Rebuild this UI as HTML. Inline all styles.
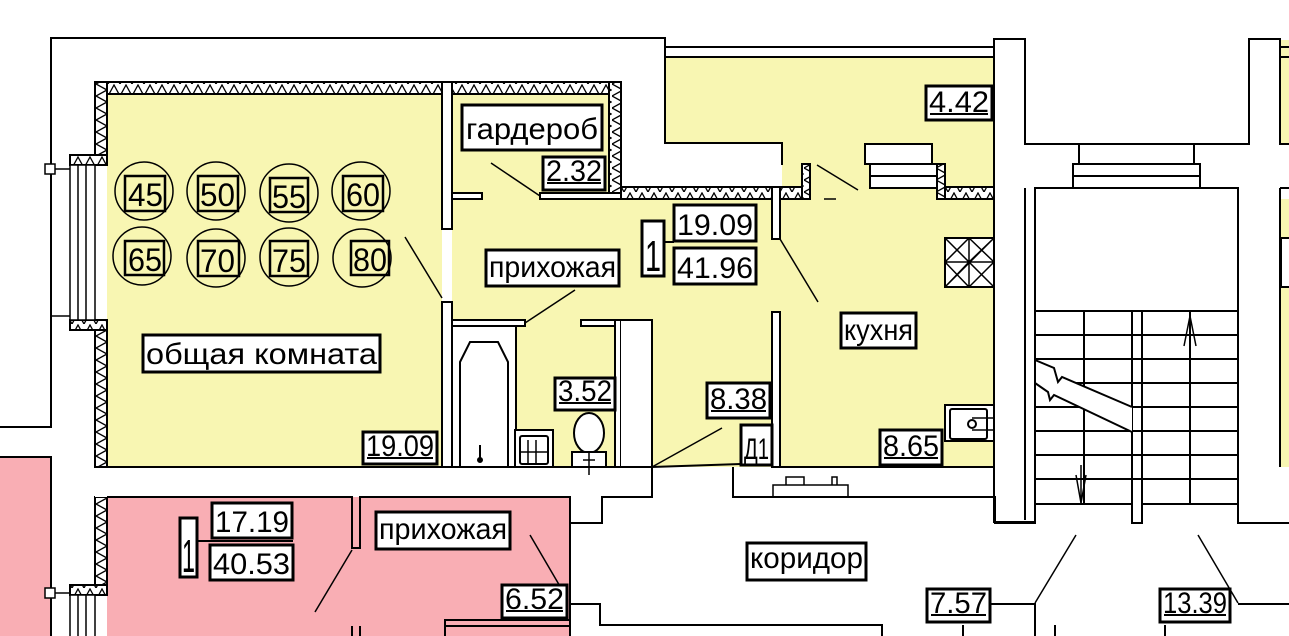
<!DOCTYPE html>
<html><head><meta charset="utf-8"><style>
html,body{margin:0;padding:0;background:#fff;}
svg{display:block;}
text{font-family:"Liberation Sans",sans-serif;fill:#000;}
</style></head><body>
<svg width="1289" height="636" viewBox="0 0 1289 636" xmlns="http://www.w3.org/2000/svg">
<defs>
<pattern id="hz" width="12" height="12" patternUnits="userSpaceOnUse">
<rect width="12" height="12" fill="#fff"/><path d="M0,12 L6,1 L12,12" fill="none" stroke="#000" stroke-width="1.3"/>
</pattern>
<pattern id="hv" width="12" height="12" patternUnits="userSpaceOnUse">
<rect width="12" height="12" fill="#fff"/><path d="M0,0 L11,6 L0,12" fill="none" stroke="#000" stroke-width="1.3"/>
</pattern>
</defs>
<!-- yellow fills -->
<g fill="#f8f6b2" stroke="none">
<rect x="107" y="94" width="335" height="373"/>
<rect x="452" y="94" width="160" height="373"/>
<rect x="612" y="199" width="160" height="268"/>
<rect x="652" y="199" width="128" height="268"/>
<rect x="780" y="199" width="214" height="268"/>
<rect x="665" y="57" width="329" height="87"/>
<rect x="782" y="143" width="212" height="56"/>
<rect x="1281" y="40" width="8" height="104"/>
<rect x="1281" y="199" width="8" height="268"/>
</g>
<g stroke="#000" stroke-width="2" fill="none">
<polyline points="0,427 51,427 51,38 665,38 665,143 782,143 782,165"/>
</g>
<!-- pink fills -->
<g fill="#f9aeb4" stroke="#000" stroke-width="2">
<rect x="-2" y="457" width="53" height="182"/>
<rect x="107" y="497" width="463" height="142" stroke="none"/>
<rect x="445" y="626" width="125" height="12"/>
</g>
<!-- hatched walls -->
<g stroke="#000" stroke-width="2">
<rect x="95" y="82" width="347" height="12" fill="url(#hz)"/>
<rect x="95" y="82" width="12" height="76" fill="url(#hv)"/>
<rect x="95" y="322" width="12" height="145" fill="url(#hv)"/>
<rect x="70" y="155" width="37" height="10" fill="url(#hz)"/>
<rect x="70" y="320" width="37" height="10" fill="url(#hz)"/>
<rect x="452" y="82" width="169" height="12" fill="url(#hz)"/>
<rect x="609" y="82" width="12" height="117" fill="url(#hv)"/>
<rect x="621" y="187" width="151" height="12" fill="url(#hz)"/>
<rect x="780" y="187" width="30" height="12" fill="url(#hz)"/>
<rect x="802" y="164" width="8" height="35" fill="url(#hv)"/>
<rect x="937" y="187" width="57" height="12" fill="url(#hz)"/>
<rect x="937" y="164" width="8" height="35" fill="url(#hv)"/>
<rect x="95" y="497" width="12" height="90" fill="url(#hv)"/>
<rect x="70" y="585" width="37" height="10" fill="url(#hz)"/>
</g>
<!-- windows -->
<g stroke="#000" stroke-width="1.5" fill="#fff">
<rect x="70" y="165" width="25" height="155"/>
<line x1="78" y1="165" x2="78" y2="320"/><line x1="86" y1="165" x2="86" y2="320"/>
<rect x="70" y="595" width="25" height="45"/>
<line x1="78" y1="595" x2="78" y2="640"/><line x1="86" y1="595" x2="86" y2="640"/>
<line x1="51" y1="169" x2="70" y2="169"/><line x1="51" y1="593" x2="70" y2="593"/>
<line x1="51" y1="316" x2="70" y2="316"/>
<rect x="45" y="164" width="10" height="10"/>
<rect x="45" y="588" width="10" height="10"/>
</g>
<!-- partitions & walls -->
<g stroke="#000" stroke-width="2" fill="#fff">
<rect x="442" y="82" width="10" height="147"/>
<rect x="452" y="193" width="30" height="6"/>
<rect x="540" y="193" width="81" height="6"/>
<rect x="442" y="302" width="10" height="165"/>
<rect x="452" y="320" width="73" height="6"/>
<rect x="581" y="320" width="40" height="6"/>
<rect x="615" y="320" width="6" height="147"/>
<rect x="621" y="320" width="31" height="175" stroke="none"/>
<polyline points="621,320 652,320 652,495" fill="none"/>
<rect x="772" y="187" width="8" height="52"/>
<rect x="772" y="312" width="8" height="155"/>
<rect x="95" y="467" width="557" height="30" stroke="none"/>
<line x1="95" y1="467" x2="652" y2="467"/>
<line x1="652" y1="467" x2="772" y2="463"/>
<line x1="780" y1="467" x2="994" y2="467"/>
<line x1="665" y1="47" x2="994" y2="47"/>
<line x1="665" y1="57" x2="994" y2="57"/>
<polyline points="994,467 994,39 1025,39 1025,144 1249,144 1249,39 1280,39 1280,144 1289,144" fill="none"/>
<polyline points="1025,188 1025,520" fill="none"/>
<polyline points="994,467 994,522 1035,522" fill="none"/>
<line x1="1281" y1="47" x2="1289" y2="47"/><line x1="1281" y1="57" x2="1289" y2="57"/>
<line x1="1280" y1="188" x2="1280" y2="467"/><line x1="1280" y1="188" x2="1289" y2="188"/>
<rect x="865" y="144" width="67" height="20"/>
<rect x="870" y="164" width="67" height="24"/>
<line x1="870" y1="176" x2="937" y2="176"/>
<rect x="1079" y="144" width="115" height="20"/>
<rect x="1073" y="164" width="127" height="24"/>
<line x1="1073" y1="176" x2="1200" y2="176"/>
<rect x="1035" y="188" width="203" height="123"/>
<rect x="1035" y="311" width="97" height="193"/>
<rect x="1142" y="311" width="96" height="193"/>
<line x1="1084" y1="311" x2="1084" y2="504"/>
<line x1="1190" y1="311" x2="1190" y2="504"/>
</g>
<g stroke="#000" stroke-width="2">
<line x1="1035" y1="335" x2="1238" y2="335"/>
<line x1="1035" y1="359" x2="1238" y2="359"/>
<line x1="1035" y1="383" x2="1238" y2="383"/>
<line x1="1035" y1="407" x2="1238" y2="407"/>
<line x1="1035" y1="431" x2="1238" y2="431"/>
<line x1="1035" y1="455" x2="1238" y2="455"/>
<line x1="1035" y1="479" x2="1238" y2="479"/>
<polygon points="1036,361 1054,368 1058,382 1062,377 1132,407 1132,432 1054,395 1050,400 1048,392 1036,384" fill="#fff" stroke="none"/>
<polyline points="1035,360 1054,368 1058,382 1062,377 1132,407" fill="none"/>
<polyline points="1035,383 1048,392 1050,400 1054,395 1132,432" fill="none"/>
<line x1="1081" y1="465" x2="1081" y2="503" stroke-width="1.5"/>
<polyline points="1076,475 1081,503 1086,475" fill="none" stroke-width="1.5"/>
<line x1="1190" y1="316" x2="1190" y2="350" stroke-width="1.5"/>
<polyline points="1184,346 1190,316 1196,346" fill="none" stroke-width="1.5"/>
<polyline points="733,467 733,497 995,497 995,523 1035,523 1035,504" fill="none"/>
<polyline points="1132,504 1132,523 1142,523 1142,504" fill="none"/>
<polyline points="1238,504 1238,523 1289,523" fill="none"/>
<polyline points="107,497 352,497 352,548 360,548 360,497 570,497 570,523 602,523 602,497 652,497 652,467" fill="none"/>
<line x1="570" y1="523" x2="570" y2="636"/>
<polyline points="570,604 600,604 600,625 882,625 882,636" fill="none"/>
<polyline points="445,636 445,620 570,620" fill="none"/>
<line x1="352" y1="626" x2="352" y2="636"/><line x1="360" y1="626" x2="360" y2="636"/>
<polyline points="990,604 1035,604 1035,636" fill="none"/>
<polyline points="1289,604 1238,604" fill="none"/>
<line x1="963" y1="625" x2="963" y2="636"/><line x1="1055" y1="625" x2="1055" y2="636"/>
<line x1="1165" y1="625" x2="1165" y2="636"/>
<polyline points="773,497 773,485 848,485 848,497" fill="none" stroke-width="1.5"/>
<polyline points="786,485 786,477 804,477 804,485" fill="none" stroke-width="1.5"/>
<polyline points="832,485 832,477 837,477 837,485" fill="none" stroke-width="1.5"/>
<line x1="405" y1="237" x2="442" y2="298" stroke-width="1.5"/>
<line x1="491" y1="163" x2="540" y2="196" stroke-width="1.5"/>
<line x1="575" y1="290" x2="525" y2="323" stroke-width="1.5"/>
<line x1="780" y1="239" x2="818" y2="302" stroke-width="1.5"/>
<line x1="817" y1="165" x2="858" y2="190" stroke-width="1.5"/>
<line x1="824" y1="199" x2="836" y2="199" stroke-width="1.5"/>
<line x1="652" y1="467" x2="722" y2="428" stroke-width="1.5"/>
<line x1="352" y1="550" x2="315" y2="612" stroke-width="1.5"/>
<line x1="530" y1="535" x2="568" y2="600" stroke-width="1.5"/>
<line x1="1035" y1="603" x2="1076" y2="535" stroke-width="1.5"/>
<line x1="1238" y1="603" x2="1198" y2="535" stroke-width="1.5"/>
</g>
<g stroke="#000" stroke-width="2" fill="#fff">
<rect x="452" y="326" width="64" height="141"/>
<path d="M460,467 L460,362 L470,342 L498,342 L508,362 L508,467" fill="none"/>
<circle cx="480" cy="460" r="2" fill="#000"/>
<line x1="480" y1="445" x2="480" y2="458"/>
<rect x="515" y="430" width="38" height="37"/>
<rect x="520" y="436" width="28" height="28" rx="2"/>
<line x1="528" y1="440" x2="528" y2="464" stroke-width="1.5"/><line x1="536" y1="440" x2="536" y2="464" stroke-width="1.5"/>
<line x1="520" y1="452" x2="548" y2="452" stroke-width="1.5"/>
<ellipse cx="589" cy="433" rx="15" ry="20"/>
<rect x="572" y="452" width="34" height="15"/>
<line x1="589" y1="452" x2="589" y2="475" stroke-width="1.5"/><line x1="583" y1="460" x2="595" y2="460" stroke-width="1.5"/>
<rect x="945" y="238" width="49" height="49"/>
<path d="M945,238 L994,287 M994,238 L945,287 M969,238 L969,287 M945,262 L994,262 M945,238 L969,262 L945,287 M969,238 L994,262 L969,287 M969,238 L945,262 L969,287 M994,238 L969,262 L994,287" fill="none" stroke-width="1.5"/>
<rect x="945" y="405" width="49" height="36"/>
<rect x="950" y="409" width="37" height="30" rx="2"/>
<circle cx="972" cy="424" r="4"/>
<line x1="972" y1="418" x2="994" y2="418" stroke-width="1.5"/><line x1="972" y1="430" x2="994" y2="430" stroke-width="1.5"/>
<rect x="1281" y="238" width="10" height="49"/>
</g>
<g stroke="#000" stroke-width="1.5" fill="none">
<circle cx="144" cy="191" r="29"/><circle cx="216" cy="191" r="29"/><circle cx="289" cy="193" r="29"/><circle cx="361" cy="191" r="29"/>
<circle cx="142" cy="256" r="29"/><circle cx="216" cy="258" r="29"/><circle cx="289" cy="257" r="29"/><circle cx="362" cy="258" r="29"/>
</g>
<g stroke="#000" stroke-width="2.5" fill="none">
<rect x="125" y="176" width="40" height="35"/><rect x="198" y="176" width="40" height="35"/><rect x="270" y="178" width="38" height="34"/><rect x="343" y="176" width="40" height="35"/>
<rect x="125" y="241" width="39" height="34"/><rect x="198" y="241" width="41" height="35"/><rect x="270" y="241" width="38" height="35"/><rect x="351" y="241" width="38" height="34"/>
</g>
<g font-size="32">
<text x="128" y="206" textLength="35" lengthAdjust="spacingAndGlyphs">45</text>
<text x="200" y="206" textLength="35" lengthAdjust="spacingAndGlyphs">50</text>
<text x="272" y="208" textLength="34" lengthAdjust="spacingAndGlyphs">55</text>
<text x="346" y="206" textLength="34" lengthAdjust="spacingAndGlyphs">60</text>
<text x="128" y="271" textLength="34" lengthAdjust="spacingAndGlyphs">65</text>
<text x="200" y="272" textLength="35" lengthAdjust="spacingAndGlyphs">70</text>
<text x="272" y="272" textLength="34" lengthAdjust="spacingAndGlyphs">75</text>
<text x="353" y="271" textLength="34" lengthAdjust="spacingAndGlyphs">80</text>
</g>
<g stroke="#000" stroke-width="3" fill="#fff">
<rect x="462" y="105" width="140" height="45"/>
<rect x="543" y="157" width="62" height="33"/>
<rect x="486" y="250" width="133" height="36"/>
<rect x="143" y="335" width="237" height="37"/>
<rect x="363" y="432" width="74" height="32"/>
<rect x="555" y="378" width="60" height="32"/>
<rect x="642" y="221" width="22" height="55"/>
<rect x="674" y="205" width="82" height="36"/>
<rect x="674" y="248" width="82" height="36"/>
<rect x="926" y="86" width="66" height="34"/>
<rect x="841" y="313" width="75" height="35"/>
<rect x="707" y="383" width="63" height="35"/>
<rect x="741" y="425" width="31" height="40"/>
<rect x="880" y="430" width="62" height="35"/>
<rect x="180" y="518" width="17" height="59"/>
<rect x="212" y="503" width="80" height="35"/>
<rect x="210" y="545" width="83" height="35"/>
<rect x="376" y="512" width="134" height="37"/>
<rect x="502" y="585" width="65" height="33"/>
<rect x="747" y="543" width="119" height="37"/>
<rect x="927" y="589" width="63" height="33"/>
<rect x="1160" y="589" width="70" height="33"/>
</g>
<g stroke="#000" stroke-width="2">
<line x1="547" y1="183" x2="601" y2="183"/>
<line x1="367" y1="458" x2="433" y2="458"/>
<line x1="559" y1="403" x2="611" y2="403"/>
<line x1="930" y1="114" x2="988" y2="114"/>
<line x1="711" y1="411" x2="766" y2="411"/>
<line x1="884" y1="458" x2="938" y2="458"/>
<line x1="506" y1="611" x2="563" y2="611"/>
<line x1="931" y1="615" x2="986" y2="615"/>
<line x1="1164" y1="615" x2="1226" y2="615"/>
<line x1="664" y1="242" x2="674" y2="242"/>
<line x1="198" y1="541" x2="293" y2="541"/>
</g>
<g font-size="30">
<text x="466" y="139" textLength="132" lengthAdjust="spacingAndGlyphs">гардероб</text>
<text x="546" y="181" textLength="56" lengthAdjust="spacingAndGlyphs">2.32</text>
<text x="489" y="277" textLength="127" lengthAdjust="spacingAndGlyphs">прихожая</text>
<text x="146" y="364" textLength="231" lengthAdjust="spacingAndGlyphs">общая комната</text>
<text x="366" y="456" textLength="68" lengthAdjust="spacingAndGlyphs">19.09</text>
<text x="558" y="401" textLength="54" lengthAdjust="spacingAndGlyphs">3.52</text>
<text x="645" y="271" font-size="44" textLength="16" lengthAdjust="spacingAndGlyphs">1</text>
<text x="677" y="235" textLength="76" lengthAdjust="spacingAndGlyphs">19.09</text>
<text x="677" y="278" textLength="76" lengthAdjust="spacingAndGlyphs">41.96</text>
<text x="929" y="112" textLength="60" lengthAdjust="spacingAndGlyphs">4.42</text>
<text x="844" y="340" textLength="69" lengthAdjust="spacingAndGlyphs">кухня</text>
<text x="710" y="409" textLength="57" lengthAdjust="spacingAndGlyphs">8.38</text>
<text x="744" y="459" textLength="25" lengthAdjust="spacingAndGlyphs">Д1</text>
<text x="883" y="456" textLength="56" lengthAdjust="spacingAndGlyphs">8.65</text>
<text x="182" y="572" font-size="46" textLength="13" lengthAdjust="spacingAndGlyphs">1</text>
<text x="215" y="532" textLength="74" lengthAdjust="spacingAndGlyphs">17.19</text>
<text x="213" y="574" textLength="77" lengthAdjust="spacingAndGlyphs">40.53</text>
<text x="379" y="539" textLength="128" lengthAdjust="spacingAndGlyphs">прихожая</text>
<text x="505" y="609" textLength="59" lengthAdjust="spacingAndGlyphs">6.52</text>
<text x="750" y="568" textLength="113" lengthAdjust="spacingAndGlyphs">коридор</text>
<text x="930" y="613" textLength="57" lengthAdjust="spacingAndGlyphs">7.57</text>
<text x="1163" y="613" textLength="64" lengthAdjust="spacingAndGlyphs">13.39</text>
</g>
</svg>
</body></html>
